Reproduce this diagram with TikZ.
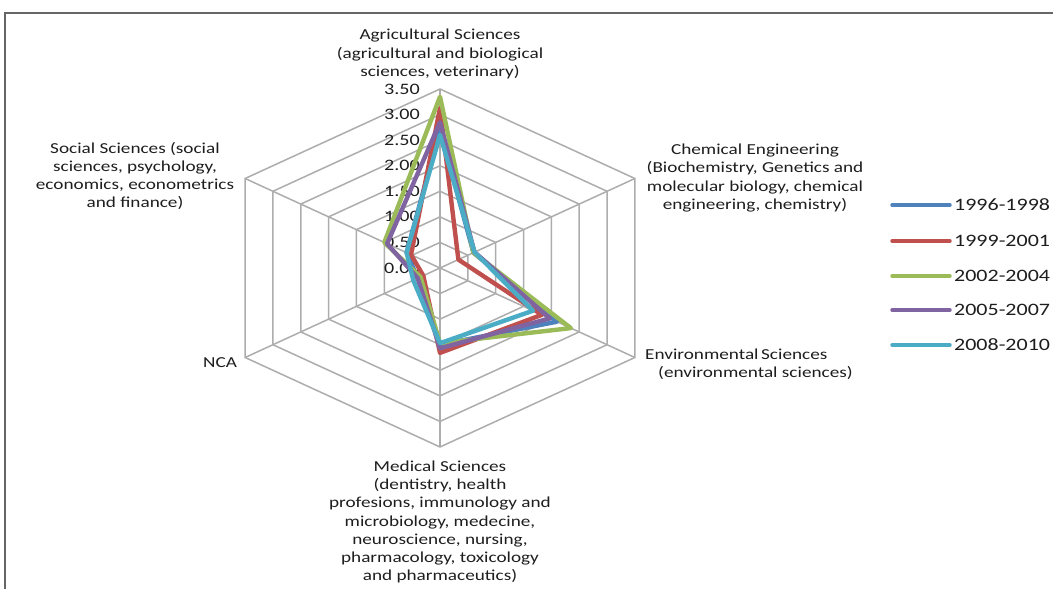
\documentclass[tikz,border=0pt]{standalone}
\usepackage{fontspec}
\setmainfont{Carlito}[FakeStretch=1.26]
\usetikzlibrary{positioning}

\definecolor{sblue}{HTML}{4F81BD}
\definecolor{sred}{HTML}{C0504D}
\definecolor{sgreen}{HTML}{9BBB59}
\definecolor{spurple}{HTML}{8064A2}
\definecolor{scyan}{HTML}{4BACC6}
\definecolor{gridgray}{HTML}{ADADAD}
\definecolor{txt}{HTML}{1E1E1E}

\begin{document}
\begin{tikzpicture}[x=1bp,y=-1bp,text=txt,
  grid line/.style={draw=gridgray,line width=1.5bp},
  series/.style={line width=4.4bp,line join=round},
  key line/.style={line width=3.4bp,line cap=round},
  cat label/.style={align=center,inner sep=0pt,font=\fontsize{15.3}{18.3}\selectfont},
  tick label/.style={anchor=east,inner sep=0pt,font=\fontsize{16}{18}\selectfont},
  key label/.style={anchor=west,inner sep=0pt,font=\fontsize{17.5}{20}\selectfont}]

\useasboundingbox (0,0) rectangle (1053,589);
\fill[white] (0,0) rectangle (1053,589);
\draw[black!60,line width=1.6bp] (5,589) -- (5,13) -- (1053,13);

% radar grid and series
\begin{scope}[shift={(440,268)},x=64.3bp,y=51.14bp]
  \coordinate (c) at (0,0);
  \foreach \i in {0,...,5}
    \coordinate (v\i) at ({90-60*\i}:3.5);
  \foreach \r in {0.5,1,...,3.5}
    \draw[grid line] (90:\r) foreach \i in {1,...,5} {-- ({90-60*\i}:\r)} -- cycle;
  \foreach \i in {0,...,5}
    \draw[grid line] (c) -- (v\i);
  \foreach \v/\t in {0/0.00,0.5/0.50,1/1.00,1.5/1.50,2/2.00,2.5/2.50,3/3.00,3.5/3.50}
    \node[tick label,xshift=-20bp] at (0,\v) (t\t) {\t};

  \foreach \col/\a/\b/\c/\d/\e/\f in {
      sblue/2.7/0.6/2.1/1.5/0.4/0.6,
      sred/3.13/0.33/1.83/1.66/0.3/0.52,
      sgreen/3.35/0.6/2.35/1.47/0.35/1.0,
      spurple/2.85/0.62/1.97/1.57/0.4/0.95,
      scyan/2.6/0.62/1.67/1.47/0.48/0.6}
    \draw[series,\col] (90:\a) -- (30:\b) -- (-30:\c) -- (-90:\d) -- (-150:\e) -- (150:\f) -- cycle;
\end{scope}

% axis titles
\node[cat label] at (440,54) (agr) {Agricultural Sciences\\(agricultural and biological\\sciences, veterinary)};
\node[cat label] at (755,178) (chem) {Chemical Engineering\\(Biochemistry, Genetics and\\molecular biology, chemical\\engineering, chemistry)};
\node[cat label,align=left,anchor=west] at (645,364) (env) {Environmental\,Sciences\\\hspace*{13bp}(environmental sciences)};
\node[cat label] at (440,522) (med) {Medical Sciences\\(dentistry, health\\profesions, immunology and\\microbiology, medecine,\\neuroscience, nursing,\\pharmacology, toxicology\\and pharmaceutics)};
\node[cat label] at (220,363) (nca) {NCA};
\node[cat label] at (135,176) (soc) {Social Sciences (social\\sciences, psychology,\\economics, econometrics\\and finance)};

% legend
\foreach \n/\col/\y/\t in {1/sblue/205/1996-1998,2/sred/241/1999-2001,3/sgreen/276/2002-2004,4/spurple/310/2005-2007,5/scyan/345/2008-2010}{
  \node[key label] at (954,\y) (key\n) {\t};
  \draw[key line,\col] ([xshift=-62bp]key\n.west) -- ([xshift=-4bp]key\n.west);
}
\end{tikzpicture}
\end{document}
